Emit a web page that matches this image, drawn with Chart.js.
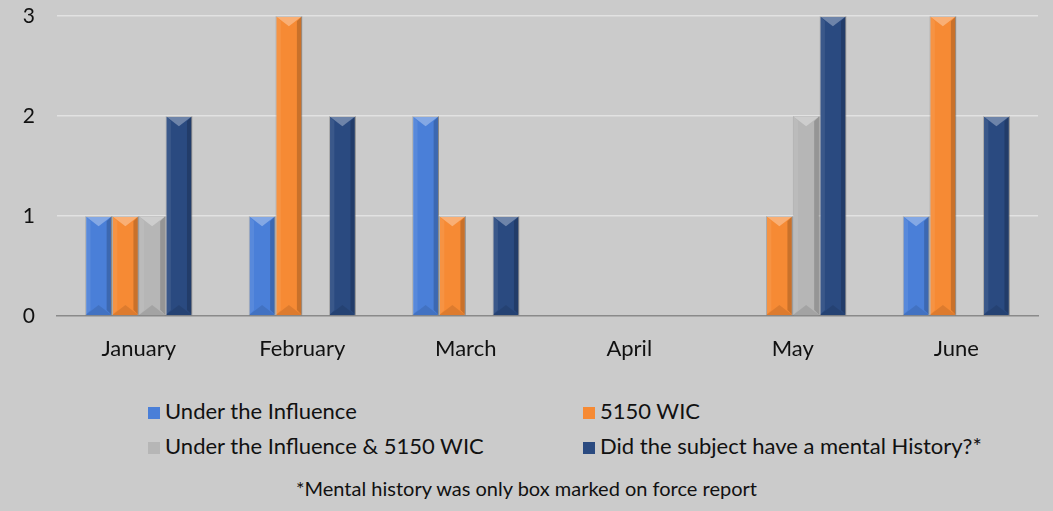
<!DOCTYPE html>
<html>
<head>
<meta charset="utf-8">
<script src="https://cdn.jsdelivr.net/npm/chart.js@4"></script>
<style>
    body { margin: 0; background: #cbcbcb; font-family: Lato, 'Open Sans', sans-serif; }
    #wrap { position: relative; width: 1053px; height: 511px; background: #cbcbcb; overflow: hidden; }
    #chartBox { position: absolute; left: 0; top: 0; width: 1053px; height: 370px; }
    .leg { position: absolute; font-size: 22px; color: #111; white-space: nowrap; line-height: 24px; }
    .leg i { display: inline-block; width: 12px; height: 12px; margin-right: 5px; vertical-align: 0px; }
    #note { position: absolute; left: 0; width: 1053px; top: 476px; text-align: center; font-size: 20px; color: #111; }
</style>
</head>
<body>
<div id="wrap">
    <div id="chartBox"><canvas id="myChart"></canvas></div>
    <div id="legend"></div>
    <div id="note"></div>
</div>
<script>
const months = ['January', 'February', 'March', 'April', 'May', 'June']
const underInfluence = [1, 1, 2, 0, 0, 1]
const wic5150 = [1, 3, 1, 0, 1, 3]
const bothInfluenceWic = [1, 0, 0, 0, 2, 0]
const mentalHistory = [2, 2, 1, 0, 3, 2]
const seriesNames = ['Under the Influence', '5150 WIC', 'Under the Influence & 5150 WIC', 'Did the subject have a mental History?*']
const yTicks = [0, 1, 2, 3]
const footnote = '*Mental history was only box marked on force report'

window.onload = () => {
    const colors = ['#4a7fd8', '#f68a34', '#b6b6b6', '#2a4a80']
    const values = [underInfluence, wic5150, bothInfluenceWic, mentalHistory]

    // bevel look like the office 3d bars
    const bevel = {
        id: 'bevel',
        afterDatasetsDraw(chart) {
            const c = chart.ctx
            chart.data.datasets.forEach((ds, i) => {
                chart.getDatasetMeta(i).data.forEach((bar, j) => {
                    if (!ds.data[j]) return
                    const L = bar.x - bar.width / 2, R = bar.x + bar.width / 2
                    const T = bar.y, B = bar.base, w = bar.width
                    const s = w * 0.2, t = w * 0.38
                    const poly = (pts, fill) => {
                        c.beginPath()
                        c.moveTo(pts[0][0], pts[0][1])
                        pts.slice(1).forEach(p => c.lineTo(p[0], p[1]))
                        c.closePath()
                        c.fillStyle = fill
                        c.fill()
                    }
                    c.save()
                    poly([[L, T], [L + s, T + s], [L + s, B - s], [L, B]], 'rgba(255,255,255,0.08)')
                    poly([[R, T], [R - s, T + s], [R - s, B - s], [R, B]], 'rgba(0,0,0,0.18)')
                    poly([[L, T], [R, T], [bar.x, T + t]], 'rgba(255,255,255,0.32)')
                    poly([[L, B], [R, B], [bar.x, B - t]], 'rgba(0,0,0,0.10)')
                    c.restore()
                })
            })
        }
    }

    const data = {
        labels: months,
        datasets: seriesNames.map((name, i) => ({
            label: name,
            data: values[i],
            backgroundColor: colors[i],
            borderColor: 'rgba(90,90,90,0.35)',
            borderWidth: 1,
            barPercentage: 1.0,
            categoryPercentage: 0.655
        }))
    }

    const config = {
        type: 'bar',
        data: data,
        plugins: [bevel],
        options: {
            responsive: true,
            maintainAspectRatio: false,
            animation: false,
            layout: { padding: { top: 16, right: 15, left: 0, bottom: 0 } },
            scales: {
                x: {
                    grid: { display: false, drawTicks: false },
                    border: { display: true, color: '#8a8a8a', width: 1.5 },
                    ticks: { color: '#111', font: { family: 'Lato', size: 22 }, padding: 20 },
                    afterFit: (s) => { s.height = 54; s.paddingLeft = 0; s.paddingRight = 0 }
                },
                y: {
                    min: 0,
                    max: 3,
                    afterBuildTicks: (s) => { s.ticks = yTicks.map(v => ({ value: v })) },
                    grid: {
                        drawTicks: false,
                        color: (ctx) => ctx.tick && ctx.tick.value === 0 ? 'rgba(0,0,0,0)' : '#e2e2e2',
                        lineWidth: 1.5
                    },
                    border: { display: false },
                    ticks: { color: '#111', font: { family: 'Lato', size: 21 }, padding: 22 },
                    afterFit: (s) => { s.width = 57; s.paddingTop = 0; s.paddingBottom = 0 }
                }
            },
            plugins: {
                legend: { display: false },
                tooltip: { enabled: false }
            }
        }
    }
    const ctx = document.getElementById('myChart')
    new Chart(ctx, config)

    // legend in two columns
    const spots = [[148, 399], [583, 399], [148, 434], [583, 434]]
    const legend = document.getElementById('legend')
    seriesNames.forEach((name, i) => {
        const d = document.createElement('div')
        d.className = 'leg'
        d.style.left = spots[i][0] + 'px'
        d.style.top = spots[i][1] + 'px'
        d.innerHTML = '<i style="background:' + colors[i] + '"></i>'
        d.appendChild(document.createTextNode(name))
        legend.appendChild(d)
    })
    document.getElementById('note').textContent = footnote
}
</script>
</body>
</html>
